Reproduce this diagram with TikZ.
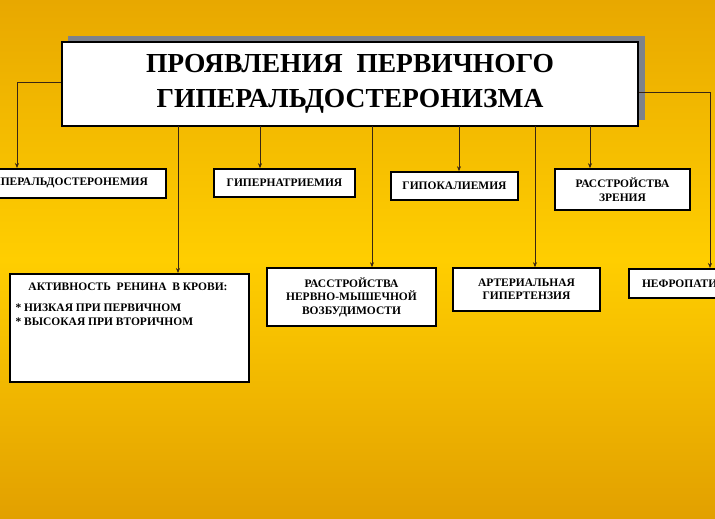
\documentclass[tikz,border=0pt]{standalone}
\usepackage{fontspec}
\setmainfont{Liberation Serif}
\usetikzlibrary{arrows.meta}
\definecolor{bgtop}{RGB}{232,168,0}
\definecolor{bgmid}{RGB}{255,206,0}
\definecolor{bgbot}{RGB}{226,160,0}
\definecolor{shadowgray}{RGB}{125,130,140}
\tikzstyle{box} = [draw=black,line width=1.6pt,fill=white,font=\bfseries\fontsize{11.5}{13.5}\selectfont,align=center,inner sep=0pt]
\tikzstyle{link} = [draw=black!70!brown,line width=0.6pt,-{Stealth[length=5pt,width=4pt]}]

\begin{document}
\begin{tikzpicture}[x=1pt,y=-1pt]
  \useasboundingbox (0,0) rectangle (715,519);
  \clip (0,0) rectangle (715,519);
  \shade[top color=bgtop,bottom color=bgbot,middle color=bgmid] (0,0) rectangle (715,519);
  % title
  \fill[shadowgray] (68,36) rectangle (645,120);
  \node[box,minimum width=576pt,minimum height=84pt,font=\bfseries\fontsize{27.5}{35}\selectfont] (title) at (350,84) {ПРОЯВЛЕНИЯ \ ПЕРВИЧНОГО\\ГИПЕРАЛЬДОСТЕРОНИЗМА};
  % upper row
  \node[box,minimum width=200pt,minimum height=29pt,anchor=north east] (aldo) at (167,168) {ГИПЕРАЛЬДОСТЕРОНЕМИЯ};
  \node[box,minimum width=141pt,minimum height=28pt] (natr) at (284.5,183) {ГИПЕРНАТРИЕМИЯ};
  \node[box,minimum width=127pt,minimum height=28pt] (kal) at (454.5,186) {ГИПОКАЛИЕМИЯ};
  \node[box,minimum width=135pt,minimum height=41pt] (vis) at (622.5,189.5) {РАССТРОЙСТВА\\ЗРЕНИЯ};
  % lower row
  \node[box,minimum width=239pt,minimum height=108pt,anchor=north west] (renin) at (9,273) {};
  \node[font=\bfseries\fontsize{11.5}{13.5}\selectfont] (renhead) at (128,287) {АКТИВНОСТЬ \ РЕНИНА \ В КРОВИ:};
  \node[font=\bfseries\fontsize{11.5}{14}\selectfont,align=left,anchor=north west] (renlist) at (12,300) {* НИЗКАЯ ПРИ ПЕРВИЧНОМ\\* ВЫСОКАЯ ПРИ ВТОРИЧНОМ};
  \node[box,minimum width=169pt,minimum height=58pt] (nerv) at (351.5,297) {РАССТРОЙСТВА\\НЕРВНО-МЫШЕЧНОЙ\\ВОЗБУДИМОСТИ};
  \node[box,minimum width=147pt,minimum height=43pt] (hyp) at (526.5,289.5) {АРТЕРИАЛЬНАЯ\\ГИПЕРТЕНЗИЯ};
  \node[box,minimum width=110pt,minimum height=29pt,anchor=north west] (nefr) at (628,268) {НЕФРОПАТИЯ};
  % connectors
  \coordinate (lt) at (17,82);
  \coordinate (rt) at (710,92);
  \coordinate (a1) at (178,126);
  \coordinate (a2) at (260,126);
  \coordinate (a3) at (372,126);
  \coordinate (a4) at (459,126);
  \coordinate (a5) at (535,126);
  \coordinate (a6) at (590,126);
  \draw[link] (title.west |- lt) -- (lt) -- (lt |- aldo.north);
  \draw[link] (title.east |- rt) -- (rt) -- (rt |- nefr.north);
  \draw[link] (a1) -- (a1 |- renin.north);
  \draw[link] (a2) -- (a2 |- natr.north);
  \draw[link] (a3) -- (a3 |- nerv.north);
  \draw[link] (a4) -- (a4 |- kal.north);
  \draw[link] (a5) -- (a5 |- hyp.north);
  \draw[link] (a6) -- (a6 |- vis.north);
\end{tikzpicture}
\end{document}
